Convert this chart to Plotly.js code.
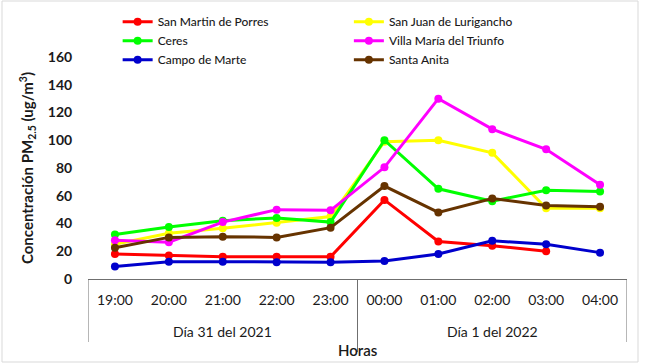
<!DOCTYPE html>
<html>
<head>
<meta charset="utf-8">
<script src="https://cdn.plot.ly/plotly-3.0.1.min.js"></script>
<style>html,body{margin:0;padding:0;background:#fff;}#chart{width:645px;height:363px;}</style>
</head>
<body>
<div id="chart"></div>
<script>
var groups = ["Día 31 del 2021","Día 31 del 2021","Día 31 del 2021","Día 31 del 2021","Día 31 del 2021",
              "Día 1 del 2022","Día 1 del 2022","Día 1 del 2022","Día 1 del 2022","Día 1 del 2022"];
var hours = ["19:00","20:00","21:00","22:00","23:00","00:00","01:00","02:00","03:00","04:00"];

var sanMartin   = [18, 17, 16, 16, 16, 57, 27, 24, 20, null];
var sanJuan     = [25, 33, 36.5, 40.5, 45, 99, 100, 91, 51, 51];
var ceres       = [32, 37.5, 42, 44, 41, 100, 65, 56, 64, 63];
var villaMaria  = [28, 26.5, 41, 50, 49.5, 80.5, 130, 108, 93.5, 68];
var campoMarte  = [9, 12.5, 12.5, 12, 12, 13, 18, 27.5, 25, 19];
var santaAnita  = [22.5, 30, 30.5, 30, 37, 67, 48, 58, 53, 52];

var names = ["San Martin de Porres","San Juan de Lurigancho","Ceres","Villa María del Triunfo","Campo de Marte","Santa Anita"];
var colors = ["#ff0000","#ffff00","#00ff00","#ff00ff","#0000cc","#663300"];
var seriesList = [sanMartin, sanJuan, ceres, villaMaria, campoMarte, santaAnita];
var legendIds = ["legend","legend2","legend","legend2","legend","legend2"];

var traces = seriesList.map(function(vals, i){
  return {
    type: "scatter",
    mode: "lines+markers",
    x: hours,
    y: vals,
    name: names[i],
    legend: legendIds[i],
    line: {color: colors[i], width: 3},
    marker: {color: colors[i], size: 8},
    connectgaps: false
  };
});

// group labels and dividers derived from the groups array
var groupInfo = [];
groups.forEach(function(g, i){
  var last = groupInfo[groupInfo.length - 1];
  if (!last || last.name !== g) groupInfo.push({name: g, start: i, end: i});
  else last.end = i;
});

var font = "Lato, 'Open Sans', sans-serif";
var plotH = 222;
var annotations = groupInfo.map(function(gi){
  return {
    xref: "x", yref: "paper", x: (gi.start + gi.end) / 2, y: -(331 - 279) / plotH,
    yanchor: "middle", xanchor: "center", showarrow: false,
    text: gi.name, font: {size: 14, family: font, color: "#1a1a1a"}
  };
});
annotations.push({
  xref: "paper", yref: "paper", x: 0.5, y: -(350 - 279) / plotH,
  yanchor: "middle", xanchor: "center", showarrow: false,
  text: "Horas", font: {size: 15, family: font, color: "#1a1a1a", weight: 600}
});

var boundaries = [-0.5];
groupInfo.forEach(function(gi){ boundaries.push(gi.end + 0.5); });
var shapes = boundaries.map(function(b, k){
  return {
    type: "line", xref: "x", yref: "paper", x0: b, x1: b,
    y0: 0, y1: -((k === 1 ? 352 : 342) - 279) / plotH,
    line: {color: "#6f6f6f", width: 1}
  };
});
shapes.push({
  type: "rect", xref: "paper", yref: "paper",
  x0: -86/539, x1: 550/539, y0: -83/plotH, y1: 1 + 56/plotH,
  line: {color: "#d9d9d9", width: 1}, fillcolor: "rgba(0,0,0,0)", layer: "below"
});

var layout = {
  width: 645, height: 363,
  margin: {l: 88, r: 18, t: 57, b: 84, autoexpand: false},
  paper_bgcolor: "#ffffff",
  plot_bgcolor: "#ffffff",
  font: {family: font, color: "#1a1a1a", size: 12},
  showlegend: true,
  legend: {
    x: 0.055, xanchor: "left", yref: "container", y: 0.98, yanchor: "top",
    bgcolor: "rgba(0,0,0,0)", font: {size: 12, family: font, color: "#1a1a1a", weight: 500},
    tracegroupgap: 0, itemwidth: 30
  },
  legend2: {
    x: 0.484, xanchor: "left", yref: "container", y: 0.98, yanchor: "top",
    bgcolor: "rgba(0,0,0,0)", font: {size: 12, family: font, color: "#1a1a1a", weight: 500},
    tracegroupgap: 0, itemwidth: 30
  },
  xaxis: {
    type: "category",
    range: [-0.5, hours.length - 0.5],
    showline: true, linecolor: "#6f6f6f", linewidth: 1,
    showgrid: false, zeroline: false,
    ticks: "outside", ticklen: 8, tickcolor: "rgba(0,0,0,0)",
    tickfont: {size: 14, family: font, color: "#1a1a1a"}
  },
  yaxis: {
    range: [0, 160], dtick: 20,
    showgrid: false, zeroline: false, showline: false,
    ticks: "outside", ticklen: 12, tickcolor: "rgba(0,0,0,0)",
    tickfont: {size: 14, family: font, color: "#1a1a1a", weight: "bold"},
    title: {text: "Concentración PM<sub>2.5</sub> (ug/m<sup>3</sup>)", font: {size: 15, family: font, color: "#1a1a1a", weight: "bold"}, standoff: 10}
  },
  annotations: annotations,
  shapes: shapes
};

Plotly.newPlot("chart", traces, layout, {displayModeBar: false, staticPlot: true});
</script>
</body>
</html>
